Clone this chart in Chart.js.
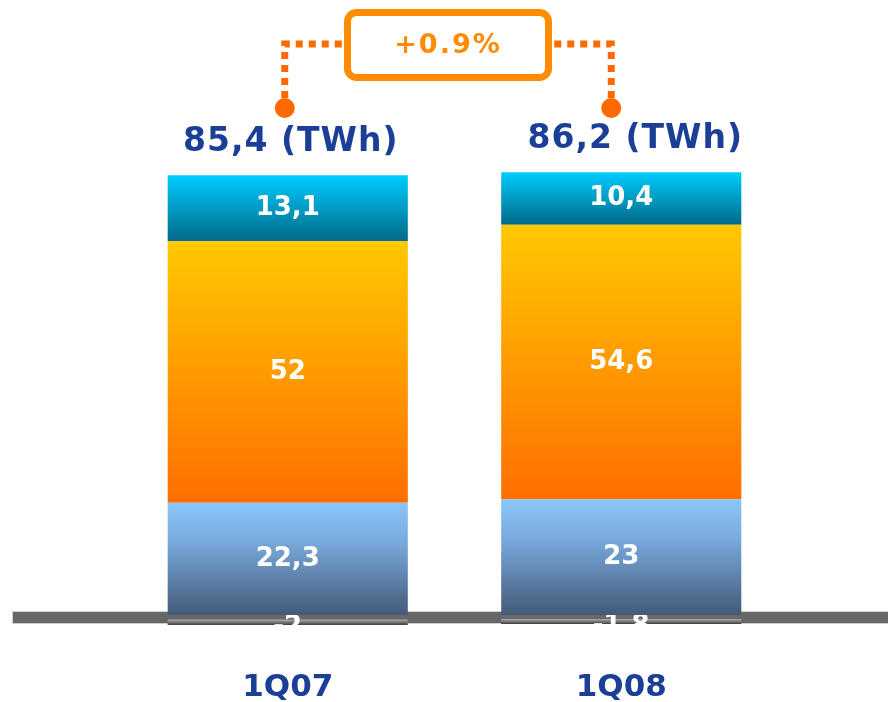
<!DOCTYPE html>
<html>
<head>
<meta charset="utf-8">
<script src="https://cdn.jsdelivr.net/npm/chart.js@4.4.1/dist/chart.umd.min.js"></script>
<style>
  html, body { margin: 0; padding: 0; background: #fff; }
  #wrap { width: 888px; height: 702px; }
</style>
</head>
<body>
<div id="wrap"><canvas id="energy"></canvas></div>
<script>
const quarters = ['1Q07', '1Q08'];
const exportBalance = [-2, -1.8];
const hydroNuclear = [22.3, 23];
const thermal = [52, 54.6];
const renewables = [13.1, 10.4];
const unit = 'TWh';

const blueText = '#1b3f97';
const fmt = v => String(v).replace('.', ',');

// vertical gradient spanning one stacked segment
function segmentGradient(stops) {
  return function(c) {
    const chart = c.chart;
    if (!chart.chartArea) return stops[0][1];
    const sets = chart.data.datasets;
    const v = sets[c.datasetIndex].data[c.dataIndex];
    let start = 0;
    for (let k = 0; k < c.datasetIndex; k++) {
      const w = sets[k].data[c.dataIndex];
      if ((w >= 0) === (v >= 0)) start += w;
    }
    const y = chart.scales.y;
    const top = y.getPixelForValue(Math.max(start, start + v));
    const bot = y.getPixelForValue(Math.min(start, start + v));
    const g = chart.ctx.createLinearGradient(0, top, 0, bot);
    stops.forEach(s => g.addColorStop(s[0], s[1]));
    return g;
  };
}

const zeroLine = {
  id: 'zeroLine',
  beforeDatasetsDraw(chart) {
    const ctx = chart.ctx;
    const y0 = chart.scales.y.getPixelForValue(0);
    ctx.save();
    ctx.fillStyle = '#666666';
    ctx.fillRect(12, y0 - 3.5, chart.width - 12, 12);
    ctx.strokeStyle = '#cfcfcf';
    ctx.lineWidth = 1;
    ctx.strokeRect(12.5, y0 - 3.5, chart.width - 12, 12);
    ctx.restore();
  }
};

const segmentLabels = {
  id: 'segmentLabels',
  afterDatasetsDraw(chart) {
    const ctx = chart.ctx;
    ctx.save();
    ctx.font = 'bold 26px "DejaVu Sans"';
    ctx.fillStyle = '#ffffff';
    ctx.textAlign = 'center';
    ctx.textBaseline = 'middle';
    chart.data.datasets.forEach((ds, i) => {
      chart.getDatasetMeta(i).data.forEach((el, j) => {
        const p = el.getProps(['x', 'y', 'base', 'width'], true);
        const top = Math.min(p.y, p.base), h = Math.abs(p.base - p.y);
        ctx.save();
        ctx.beginPath();
        ctx.rect(p.x - p.width / 2, top, p.width, h);
        ctx.clip();
        const shift = ds.data[j] < 0 ? 7 : 0;
        ctx.fillText(fmt(ds.data[j]), p.x, top + h / 2 + shift);
        ctx.restore();
      });
    });
    ctx.restore();
  }
};

const totalsAndChange = {
  id: 'totalsAndChange',
  afterDraw(chart) {
    const ctx = chart.ctx;
    const xs = chart.scales.x, ys = chart.scales.y;
    const sets = chart.data.datasets;
    const totals = quarters.map((q, j) => sets.reduce((s, d) => s + d.data[j], 0));
    const tops = quarters.map((q, j) => sets.reduce((s, d) => s + Math.max(d.data[j], 0), 0));

    ctx.save();
    ctx.font = 'bold 33px "DejaVu Sans"';
    ctx.letterSpacing = '1px';
    ctx.fillStyle = blueText;
    ctx.textAlign = 'center';
    ctx.textBaseline = 'middle';
    quarters.forEach((q, j) => {
      const x = xs.getPixelForValue(j) + (j === 0 ? 3 : 14);
      ctx.fillText(totals[j].toFixed(1).replace('.', ',') + ' (' + unit + ')', x, ys.getPixelForValue(tops[j]) - 33);
    });
    ctx.restore();

    // bracket linking both totals
    const x1 = xs.getPixelForValue(0) - 3, x2 = xs.getPixelForValue(1) - 10;
    const lineY = 44, dotY = 108;
    const boxW = 208, boxH = 72, boxX = (x1 + x2) / 2 - boxW / 2, boxY = 9;
    ctx.save();
    ctx.strokeStyle = '#ff6a00';
    ctx.lineWidth = 7;
    ctx.setLineDash([7, 6]);
    ctx.beginPath();
    ctx.moveTo(x1, dotY - 10);
    ctx.lineTo(x1, lineY);
    ctx.lineTo(boxX, lineY);
    ctx.moveTo(x2, dotY - 10);
    ctx.lineTo(x2, lineY);
    ctx.lineTo(boxX + boxW, lineY);
    ctx.stroke();
    ctx.setLineDash([]);
    ctx.fillStyle = '#ff6a00';
    [x1, x2].forEach(x => {
      ctx.beginPath();
      ctx.arc(x, dotY, 10, 0, Math.PI * 2);
      ctx.fill();
    });
    ctx.fillStyle = '#ffffff';
    ctx.strokeStyle = '#ff8c00';
    ctx.lineWidth = 7;
    ctx.beginPath();
    ctx.roundRect(boxX + 3.5, boxY + 3.5, boxW - 7, boxH - 7, 9);
    ctx.fill();
    ctx.stroke();
    const change = (totals[1] - totals[0]) / totals[0] * 100;
    ctx.fillStyle = '#ff8c00';
    ctx.font = '600 27px "DejaVu Sans"';
    ctx.letterSpacing = '2px';
    ctx.textAlign = 'center';
    ctx.textBaseline = 'middle';
    ctx.fillText((change >= 0 ? '+' : '') + change.toFixed(1) + '%', boxX + boxW / 2, boxY + boxH / 2 + 1);
    ctx.restore();
  }
};

new Chart(document.getElementById('energy'), {
  type: 'bar',
  data: {
    labels: quarters,
    datasets: [
      { label: 'Saldo', data: exportBalance,
        backgroundColor: segmentGradient([[0, '#686868'], [0.4, '#6a6a6a'], [0.5, '#a8a8a8'], [0.62, '#888888'], [1, '#3c3c3c']]) },
      { label: 'Hidráulica y nuclear', data: hydroNuclear,
        backgroundColor: segmentGradient([[0, '#8ac6fb'], [0.35, '#78a9dc'], [1, '#435a78']]) },
      { label: 'Térmica', data: thermal,
        backgroundColor: segmentGradient([[0, '#ffc800'], [1, '#ff6e00']]) },
      { label: 'Renovables', data: renewables,
        backgroundColor: segmentGradient([[0, '#00ccff'], [1, '#006a88']]) }
    ]
  },
  options: {
    responsive: true,
    maintainAspectRatio: false,
    animation: false,
    layout: { padding: { left: 121, right: 100, top: 0, bottom: 0 } },
    plugins: { legend: { display: false }, tooltip: { enabled: false } },
    datasets: { bar: { categoryPercentage: 1, barPercentage: 0.72, borderWidth: 0 } },
    scales: {
      x: {
        stacked: true,
        grid: { display: false, drawTicks: false },
        border: { display: false },
        ticks: { color: blueText, font: { family: 'DejaVu Sans', size: 31, weight: 'bold' }, padding: 20 },
        afterFit(axis) { axis.height = 53; }
      },
      y: {
        stacked: true,
        display: false,
        min: -6.75,
        max: 122.25
      }
    }
  },
  plugins: [zeroLine, segmentLabels, totalsAndChange]
});
</script>
</body>
</html>
